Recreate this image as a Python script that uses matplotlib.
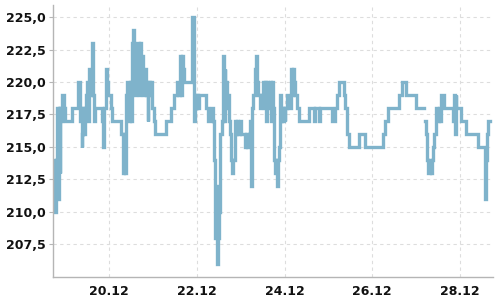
import numpy as np
import pandas as pd
import matplotlib
matplotlib.use("Agg")
import matplotlib.pyplot as plt
import matplotlib.dates as mdates
from matplotlib.ticker import FuncFormatter

# hours after 18.12 00:00 and the price at that moment (step series)
hours = [
    18.0, 18.5, 19.0, 19.5, 20.0, 20.5, 21.0, 21.5, 22.0, 22.5, 23.2, 23.8, 27.7,
    31.3, 31.9, 32.5, 33.0, 33.5, 34.0, 34.5, 34.9, 35.5, 36.2, 36.7, 37.3, 38.0,
    38.5, 39.1, 39.6, 40.1, 44.0, 44.5, 44.9, 45.5, 46.2, 46.9, 47.6, 48.9, 49.8,
    54.4, 55.8, 56.3, 56.8, 57.3, 57.8, 58.7, 59.3, 60.0, 60.5, 61.3, 61.8, 62.4,
    63.0, 63.6, 64.2, 64.8, 65.5, 66.0, 66.6, 67.3, 68.0, 68.6, 69.1, 69.6, 70.2,
    70.8, 71.3, 71.8, 72.7, 73.3, 79.1, 81.8, 83.6, 85.4, 86.0, 86.7, 87.3, 87.9,
    88.5, 89.2, 93.6, 94.3, 94.7, 95.1, 95.5, 96.0, 96.5, 97.0, 101.3, 102.2, 104.0,
    105.0, 105.3, 105.8, 106.2, 106.7, 107.1, 107.6, 108.2, 108.6, 108.9, 110.0,
    110.4, 110.9, 111.3, 111.7, 112.2, 112.7, 113.6, 114.2, 114.9, 115.5, 116.0,
    116.7, 117.6, 118.2, 118.8, 119.4, 120.0, 122.6, 123.2, 123.6, 124.6, 124.9,
    125.5, 126.0, 126.4, 127.0, 127.6, 128.2, 128.5, 129.2, 129.6, 130.7, 131.3,
    132.2, 132.8, 133.4, 134.0, 134.6, 135.2, 135.8, 136.4, 137.0, 137.6, 138.5,
    139.0, 139.5, 140.0, 140.6, 140.9, 141.8, 142.2, 142.7, 143.2, 143.7, 144.2,
    144.5, 145.5, 146.4, 147.3, 148.0, 148.5, 149.0, 149.6, 150.9, 151.8, 157.3,
    160.0, 160.5, 162.7, 163.5, 170.0, 171.5, 172.7, 173.6, 176.4, 177.3, 178.2,
    179.5, 184.9, 188.2, 197.6, 199.1, 200.4, 206.4, 208.2, 210.4, 215.8, 220.4,
    220.6, 221.3, 221.8, 222.5, 223.3, 224.0, 224.6, 225.3, 226.0, 226.7, 227.5,
    228.2, 229.0, 229.8, 231.1, 236.2, 236.6, 237.1, 237.6, 238.0, 240.7, 243.5,
    249.8, 253.5, 254.0, 254.5, 255.3, 256.5,
]
prices = [
    214, 210, 214, 218, 211, 218, 213, 218, 217, 219, 218, 217, 218,
    220, 217, 218, 215, 216, 218, 216, 218, 219, 220, 217, 221, 219,
    223, 219, 217, 218, 217, 218, 215, 218, 221, 220, 219, 218, 217,
    216, 213, 216, 213, 219, 220, 217, 220, 217, 223, 224, 222, 219,
    222, 223, 219, 223, 220, 222, 219, 221, 219, 220, 217, 220, 219,
    220, 219, 218, 217, 216, 217, 218, 219, 220, 219, 222, 219, 222,
    221, 220, 225, 218, 217, 219, 218, 219, 218, 219, 218, 217, 218,
    217, 214, 212, 208, 212, 206, 208, 210, 213, 216, 217,
    222, 217, 221, 218, 220, 219, 217, 216, 214, 213, 214,
    217, 216, 217, 216, 217, 216, 215, 216, 215, 216, 217,
    212, 217, 218, 219, 221, 220, 222, 220, 219, 218, 219,
    220, 218, 220, 217, 220, 218, 220, 217, 220, 218, 214,
    213, 214, 212, 214, 215, 219, 217, 218, 217, 218, 217,
    218, 219, 218, 221, 219, 221, 220, 219, 218, 217, 218,
    217, 218, 217, 218, 217, 218, 219, 220, 219, 218, 216,
    215, 216, 215, 216, 217, 218, 219, 220, 219, 218, np.nan,
    217, 216, 214, 213, 214, 213, 214, 215, 216, 218, 217,
    218, 217, 219, 218, 217, 219, 216, 219, 218, 217, 216,
    215, 211, 214, 216, 217, 217,
]

start = pd.Timestamp("2023-12-18")
times = start + pd.to_timedelta(hours, unit="h")

fig = plt.figure(figsize=(5, 3), dpi=100)
ax = fig.add_axes([0.106, 0.077, 0.88, 0.906])

ax.plot(times, prices, drawstyle="steps-post", color="#7fb3cb", lw=2.4,
        solid_joinstyle="miter")

ax.set_ylim(205.0, 225.92)
ax.set_xlim(start + pd.Timedelta(hours=17.4), start + pd.Timedelta(hours=258))
ax.set_yticks([207.5, 210.0, 212.5, 215.0, 217.5, 220.0, 222.5, 225.0])
ax.yaxis.set_major_formatter(FuncFormatter(lambda v, p: f"{v:.1f}".replace(".", ",")))
ax.xaxis.set_major_locator(mdates.DayLocator(bymonthday=[20, 22, 24, 26, 28]))
ax.xaxis.set_major_formatter(mdates.DateFormatter("%d.%m"))

ax.grid(True, color="#dddddd", linestyle=(0, (3, 3)), lw=0.8)
ax.set_axisbelow(True)
for side in ["top", "right"]:
    ax.spines[side].set_visible(False)
for side in ["left", "bottom"]:
    ax.spines[side].set_color("#b5b5b5")
    ax.spines[side].set_linewidth(1.0)

ax.tick_params(axis="y", length=3, color="#b5b5b5", pad=2)
ax.tick_params(axis="x", length=0, pad=6)
for lbl in ax.get_xticklabels() + ax.get_yticklabels():
    lbl.set_fontweight("bold")
    lbl.set_fontsize(9)
    lbl.set_color("#111111")

fig.savefig("out.png", dpi=100)
